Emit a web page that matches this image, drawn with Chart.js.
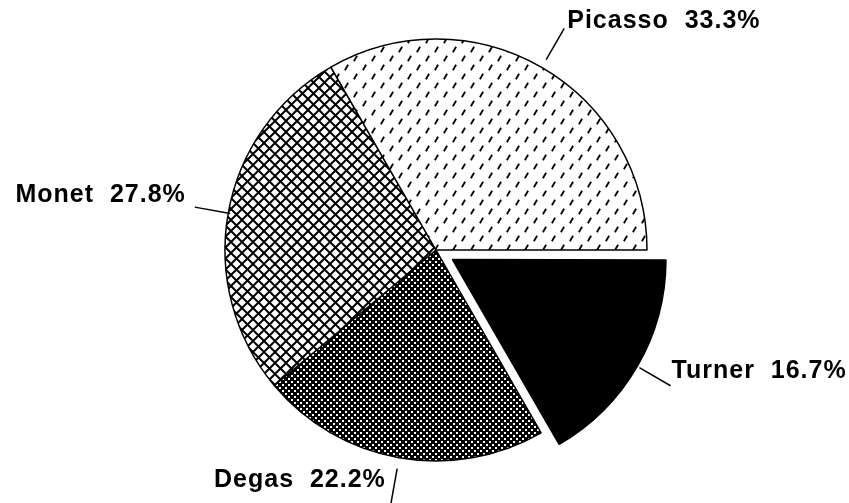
<!DOCTYPE html>
<html>
<head>
<meta charset="utf-8">
<title>Painters pie</title>
<script src="https://cdn.jsdelivr.net/npm/chart.js"></script>
<style>
  body { margin: 0; background: #fff; }
  #wrap { width: 849px; height: 503px; }
</style>
</head>
<body>
<div id="wrap"><canvas id="pieChart" width="849" height="503"></canvas></div>
<script>
// slices go clockwise from 3 o'clock
const painters = ['Turner', 'Degas', 'Monet', 'Picasso'];
const shares = [16.7, 22.2, 27.8, 33.3];
const explode = [76, 0, 0, 0]; // chart.js moves an arc by offset / 4

// leader lines: start this far past the rim, fixed length; text shifted from the leader end
const leaderGap = [5, 11, -2, 9];
const leaderLen = 36;
const textShift = [[1, -7.5, 'left'], [-5, -17, 'right'], [-9, -5.5, 'right'], [3, 0, 'left']];

const canvas = document.getElementById('pieChart');
const ctx = canvas.getContext('2d');

function makePattern(size, draw) {
    const c = document.createElement('canvas');
    c.width = size;
    c.height = size;
    const g = c.getContext('2d');
    g.fillStyle = '#fff';
    g.fillRect(0, 0, size, size);
    g.strokeStyle = '#000';
    g.fillStyle = '#000';
    draw(g, size);
    return ctx.createPattern(c, 'repeat');
}

// Picasso: short steep dashes on "/" rows
const dashFill = makePattern(18, (g) => {
    g.lineWidth = 1.8;
    [[4.5, 13.5], [13.5, 4.5]].forEach(([x, y]) => {
        g.beginPath();
        g.moveTo(x - 1.6, y + 2.8);
        g.lineTo(x + 1.6, y - 2.8);
        g.stroke();
    });
});

// Monet: open diagonal cross hatch
const crossFill = makePattern(11, (g, s) => {
    g.lineWidth = 2;
    [-s, 0, s].forEach(k => {
        g.beginPath();
        g.moveTo(k, 0); g.lineTo(k + s, s);
        g.moveTo(k + s, 0); g.lineTo(k, s);
        g.stroke();
    });
});

// Degas: dense black with little white dots
const dotFill = makePattern(6, (g) => {
    g.fillRect(0, 0, 6, 6);
    g.fillStyle = '#fff';
    g.fillRect(0, 0, 2, 2);
    g.fillRect(3, 3, 2, 2);
});

const fills = ['#000', dotFill, crossFill, dashFill];

const labelPlugin = {
    id: 'painterLabels',
    afterDatasetsDraw(chart) {
        const c = chart.ctx;
        const arcs = chart.getDatasetMeta(0).data;
        c.save();
        c.strokeStyle = '#000';
        c.fillStyle = '#000';
        c.lineWidth = 1.5;
        c.font = 'bold 25px "Liberation Sans", Arial, sans-serif';
        c.letterSpacing = '1px';
        c.textBaseline = 'alphabetic';
        arcs.forEach((arc, i) => {
            const p = arc.getProps(['x', 'y', 'startAngle', 'endAngle', 'outerRadius'], true);
            const mid = (p.startAngle + p.endAngle) / 2;
            const push = explode[i] / 4;
            const cx = p.x + Math.cos(mid) * push;
            const cy = p.y + Math.sin(mid) * push;
            const r0 = p.outerRadius + leaderGap[i];
            const r1 = r0 + leaderLen;
            const x1 = cx + Math.cos(mid) * r1;
            const y1 = cy + Math.sin(mid) * r1;
            c.beginPath();
            c.moveTo(cx + Math.cos(mid) * r0, cy + Math.sin(mid) * r0);
            c.lineTo(x1, y1);
            c.stroke();
            const [dx, dy, align] = textShift[i];
            c.textAlign = align;
            c.fillText(painters[i] + '  ' + shares[i].toFixed(1) + '%', x1 + dx, y1 + dy);
        });
        c.restore();
    }
};

new Chart(ctx, {
    type: 'pie',
    data: {
        labels: painters,
        datasets: [{
            data: shares,
            backgroundColor: fills,
            borderColor: '#000',
            borderWidth: 1.5,
            offset: explode
        }]
    },
    options: {
        responsive: false,
        animation: false,
        rotation: 90,
        radius: 211,
        layout: { padding: { left: 23, right: 0, top: 0, bottom: 3 } },
        plugins: {
            legend: { display: false },
            tooltip: { enabled: false }
        }
    },
    plugins: [labelPlugin]
});
</script>
</body>
</html>
